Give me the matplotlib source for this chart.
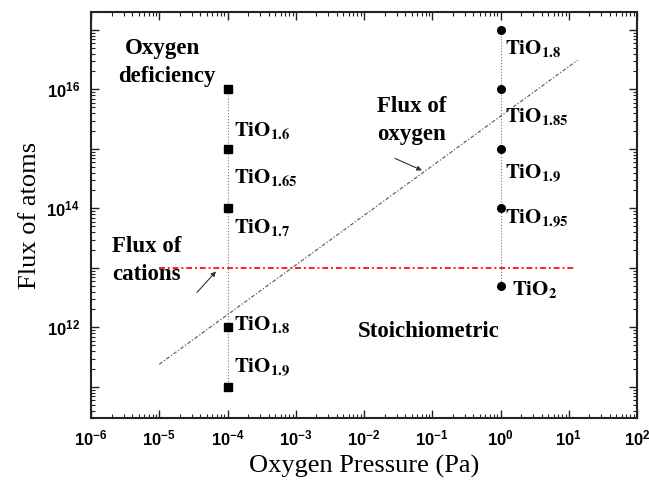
import numpy as np
import matplotlib
matplotlib.use("Agg")
import matplotlib.pyplot as plt
from matplotlib.ticker import LogLocator, FuncFormatter, NullFormatter

plt.rcParams['mathtext.fontset'] = 'custom'
plt.rcParams['mathtext.bf'] = 'Liberation Sans:bold'
plt.rcParams['mathtext.rm'] = 'Liberation Sans'

# ---------------- data ----------------
p_low = 1e-4
flux_low = [1e16, 1e15, 1e14, 1e12, 1e11]
labels_low = ['1.6', '1.65', '1.7', '1.8', '1.9']

p_high = 1.0
flux_high = [1e17, 1e16, 1e15, 1e14, 5e12]
labels_high = ['1.8', '1.85', '1.9', '1.95', '2']

cation_p = [1e-5, 12.0]
cation_flux = [1e13, 1e13]

oxygen_p = [1e-5, 13.5]
oxygen_flux = [2.4e11, 3.1e16]

xlim = (1e-6, 1e2)
ylim = (3e10, 2e17)

# ---------------- figure ----------------
fig = plt.figure(figsize=(6.49, 4.83), dpi=100)
ax = fig.add_axes([91/649, 1-418/483, (637-91)/649, (418-12)/483])
ax.set_xscale('log')
ax.set_yscale('log')
ax.set_xlim(*xlim)
ax.set_ylim(*ylim)

# vertical guide lines
ax.plot([p_low, p_low], [max(flux_low), min(flux_low)], color='#777777', lw=0.8, ls=':')
ax.plot([p_high, p_high], [max(flux_high), min(flux_high)], color='#777777', lw=0.8, ls=':')

# flux lines
ax.plot(cation_p, cation_flux, color='#ff2020', lw=1.4, ls=(0, (3, 1.5, 1, 1.5)))
ax.plot(oxygen_p, oxygen_flux, color='#666666', lw=0.9, ls=(0, (3, 1.5, 1, 1.5)))

# markers
ax.plot([p_low]*len(flux_low), flux_low, 's', color='black', ms=6, ls='none')
ax.plot([p_high]*len(flux_high), flux_high, 'o', color='black', ms=5.5, ls='none')

# labels of compositions
def xlog(px):
    return 10 ** (-6 + (px - 91) / 68.25)

def ylog(py):
    return 10 ** (16 - (py - 89) / 59.5)

low_label_y = [130, 177, 227, 324, 367]
high_label_y = [48, 116, 173, 218, 289]
for lab, py in zip(labels_low, low_label_y):
    ax.text(xlog(234), ylog(py), r'$\mathbf{TiO_{%s}}$' % lab, math_fontfamily='stix',
            fontsize=15, ha='left', va='center')
for lab, py in zip(labels_high, high_label_y):
    xx = 512 if lab == '2' else 505
    ax.text(xlog(xx), ylog(py), r'$\mathbf{TiO_{%s}}$' % lab, math_fontfamily='stix',
            fontsize=15, ha='left', va='center')

serif = 'Liberation Serif'
ax.text(xlog(163), ylog(48), 'Oxygen', family=serif, weight='bold', fontsize=16.5,
        ha='center', va='center')
ax.text(xlog(167), ylog(76), 'deficiency', family=serif, weight='bold', fontsize=16.5,
        ha='center', va='center')
ax.text(xlog(377), ylog(106), 'Flux of', family=serif, weight='bold', fontsize=16.5,
        ha='left', va='center')
ax.text(xlog(377), ylog(134), 'oxygen', family=serif, weight='bold', fontsize=16.5,
        ha='left', va='center')
ax.text(xlog(112), ylog(246), 'Flux of', family=serif, weight='bold', fontsize=16.5,
        ha='left', va='center')
ax.text(xlog(112), ylog(274), 'cations', family=serif, weight='bold', fontsize=16.5,
        ha='left', va='center')
ax.text(xlog(429), ylog(331), 'Stoichiometric', family=serif, weight='bold', fontsize=16.5,
        ha='center', va='center')

# arrows
ax.annotate('', xy=(xlog(422), ylog(170)), xytext=(xlog(395), ylog(158)),
            arrowprops=dict(arrowstyle='-|>', color='#333333', lw=0.8,
                            mutation_scale=7, shrinkA=0, shrinkB=0))
ax.annotate('', xy=(xlog(216), ylog(271)), xytext=(xlog(197), ylog(292)),
            arrowprops=dict(arrowstyle='-|>', color='#333333', lw=0.8,
                            mutation_scale=7, shrinkA=0, shrinkB=0))

# ticks
ax.xaxis.set_major_locator(LogLocator(base=10, numticks=20))
ax.xaxis.set_minor_locator(LogLocator(base=10, subs=np.arange(2, 10), numticks=50))
ax.xaxis.set_minor_formatter(NullFormatter())
ax.xaxis.set_major_formatter(FuncFormatter(lambda v, p: r'$\mathbf{10^{%d}}$' % round(np.log10(v))))

ax.yaxis.set_major_locator(LogLocator(base=10, numticks=20))
ax.yaxis.set_minor_locator(LogLocator(base=10, subs=np.arange(2, 10), numticks=50))
ax.yaxis.set_minor_formatter(NullFormatter())
def yfmt(v, p):
    e = round(np.log10(v))
    return r'$\mathbf{10^{%d}}$' % e if e % 2 == 0 else ''
ax.yaxis.set_major_formatter(FuncFormatter(yfmt))

ax.tick_params(which='both', direction='in', top=True, right=True, color='#222222')
ax.tick_params(which='major', length=6, width=1.0, labelsize=12, pad=8)
ax.tick_params(which='minor', length=3, width=0.8)
for s in ax.spines.values():
    s.set_linewidth(1.5)
    s.set_color('#222222')

ax.set_xlabel('Oxygen Pressure (Pa)', family=serif, fontsize=19, labelpad=4)
ax.set_ylabel('Flux of atoms', family=serif, fontsize=19, labelpad=4)

fig.savefig('out.png', dpi=100)
